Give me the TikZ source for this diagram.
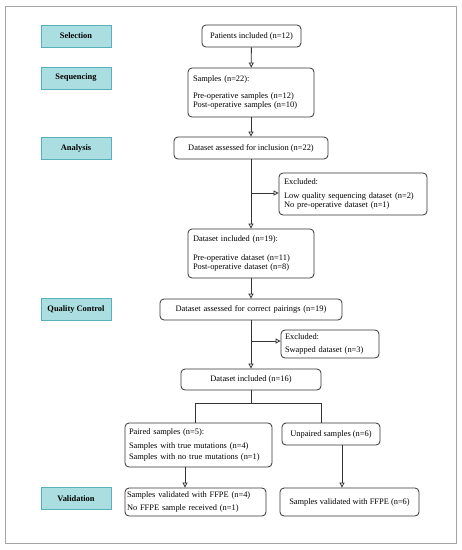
\documentclass[tikz,border=0pt]{standalone}
\usepackage{fontspec}
\setmainfont{Liberation Serif}
\usetikzlibrary{arrows.meta}
\definecolor{phasefill}{RGB}{170,222,224}
\definecolor{phasedraw}{RGB}{86,178,184}
\definecolor{framegray}{RGB}{165,165,165}
\begin{document}
\begin{tikzpicture}[x=1pt,y=-1pt,
  every node/.style={font=\fontsize{8.4}{9.5}\selectfont},
  phase/.style={draw=phasedraw, fill=phasefill, line width=0.8pt, minimum width=70pt, minimum height=22pt, inner sep=0pt, font=\fontsize{8.4}{9.5}\selectfont\bfseries},
  flowbox/.style={draw=black!80, line width=0.8pt, rounded corners=4pt, inner sep=0pt},
  leftbox/.style={flowbox, align=left, anchor=center},
  arr/.style={draw=black!80, line width=0.8pt, -{Triangle[open,length=5pt,width=5pt]}},
  ln/.style={draw=black!80, line width=0.8pt}]
\useasboundingbox (0,0) rectangle (462,550);
\fill[white] (0,0) rectangle (462,550);
\draw[framegray, line width=0.8pt] (5,6) rectangle (456,543);

% phase labels
\node[phase] (selection) at (76,36) {Selection};
\node[phase] (sequencing) at (76,78) {Sequencing};
\node[phase] (analysis) at (76,148) {Analysis};
\node[phase] (qc) at (76,309.5) {Quality Control};
\node[phase] (validation) at (76,498.5) {Validation};

% flow boxes
\node[flowbox, minimum width=99pt, minimum height=22pt] (pat) at (251.5,36) {Patients included (n=12)};
\node[leftbox, minimum width=126pt, minimum height=49pt, text width=116pt] (samp) at (251,92.5)
  {Samples (n=22):\\[7pt]Pre-operative samples (n=12)\\Post-operative samples (n=10)};
\node[flowbox, minimum width=154pt, minimum height=22pt] (assess1) at (251,148) {Dataset assessed for inclusion (n=22)};
\node[leftbox, minimum width=148pt, minimum height=42pt, text width=138pt] (excl1) at (353,194)
  {Excluded:\\[4pt]Low quality sequencing dataset (n=2)\\No pre-operative dataset (n=1)};
\node[leftbox, minimum width=126pt, minimum height=49pt, text width=116pt] (inc19) at (251,253.5)
  {Dataset included (n=19):\\[9pt]Pre-operative dataset (n=11)\\Post-operative dataset (n=8)};
\node[leftbox, minimum width=182pt, minimum height=21pt, align=center, text width=176pt] (assess2) at (251,309.5) {Dataset assessed for correct pairings (n=19)};
\node[leftbox, minimum width=98pt, minimum height=28pt, text width=90pt] (excl2) at (330,344)
  {Excluded:\\[4pt]Swapped dataset (n=3)};
\node[flowbox, minimum width=140pt, minimum height=21pt] (inc16) at (251,379.5) {Dataset included (n=16)};
\node[leftbox, minimum width=147pt, minimum height=44pt, text width=139pt] (paired) at (198.5,445)
  {Paired samples (n=5):\\[4pt]Samples with true mutations (n=4)\\[2pt]Samples with no true mutations (n=1)};
\node[flowbox, minimum width=98pt, minimum height=22pt] (unpaired) at (331,434) {Unpaired samples (n=6)};
\node[leftbox, minimum width=141pt, minimum height=28pt, text width=137pt] (valL) at (195.5,502)
  {Samples validated with FFPE (n=4)\\[3pt]No FFPE sample received (n=1)};
\node[flowbox, minimum width=139pt, minimum height=28pt] (valR) at (349.5,502) {Samples validated with FFPE (n=6)};

% connectors
\draw[arr] (pat) -- (samp);
\draw[arr] (samp) -- (assess1);
\draw[arr] (assess1) -- (inc19);
\coordinate (b1) at (251,193);
\draw[arr] (b1) -- (excl1.west |- b1);
\draw[arr] (inc19) -- (assess2);
\draw[arr] (assess2) -- (inc16);
\coordinate (b2) at (251,341);
\draw[arr] (b2) -- (excl2.west |- b2);
\coordinate (split) at (251,403);
\coordinate (dl) at (195,403);
\coordinate (dr) at (321,403);
\draw[ln] (inc16.south) -- (split);
\draw[ln] (paired.north -| dl) -- (dl) -- (dr) -- (unpaired.north -| dr);
\coordinate (a1) at (185,0);
\coordinate (a2) at (342,0);
\draw[arr] (paired.south -| a1) -- (valL.north -| a1);
\draw[arr] (unpaired.south -| a2) -- (valR.north -| a2);
\end{tikzpicture}
\end{document}
